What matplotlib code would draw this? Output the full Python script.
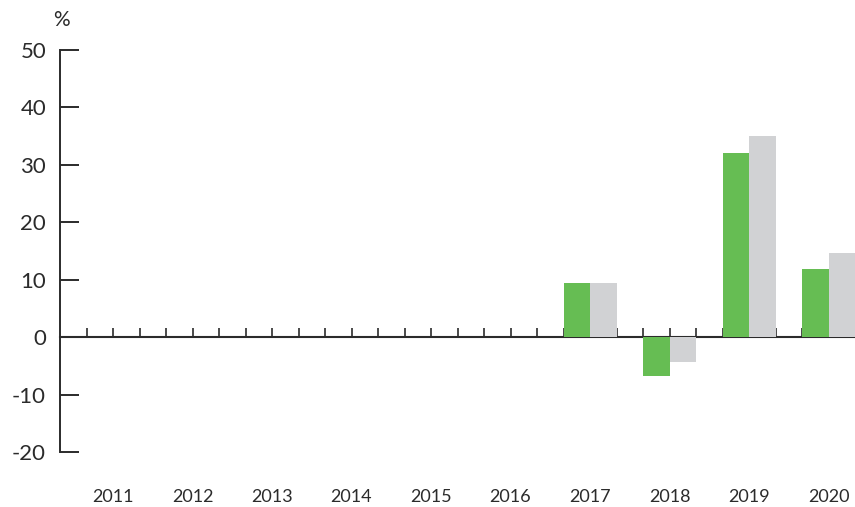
import numpy as np
import matplotlib
matplotlib.use('Agg')
from matplotlib import pyplot as plt

plt.rcParams['font.family'] = ['Lato', 'DejaVu Sans']

# data
years = ['2011', '2012', '2013', '2014', '2015', '2016', '2017', '2018', '2019', '2020']
green_vals = [np.nan, np.nan, np.nan, np.nan, np.nan, np.nan, 9.5, -6.8, 32.0, 11.9]
grey_vals = [np.nan, np.nan, np.nan, np.nan, np.nan, np.nan, 9.5, -4.4, 35.0, 14.7]
yticks = [-20, -10, 0, 10, 20, 30, 40, 50]

green = '#66bd53'
grey = '#d1d2d4'
dark = '#2b2b2b'

fig = plt.figure(figsize=(8.55, 5.07), dpi=100)
ax = fig.add_axes([60/855, 1-452/507, 1-60/855, (452-50)/507])

# each year takes 3 slots: green, grey, gap
centers = np.arange(len(years))*3 + 2
g = np.array(green_vals)
r = np.array(grey_vals)
ok = ~np.isnan(g)
ax.bar(centers[ok]-0.5, g[ok], width=1.0, color=green, zorder=3)
ax.bar(centers[ok]+0.5, r[ok], width=1.0, color=grey, zorder=3)

ax.set_xlim(0, 30)
ax.set_ylim(-20, 50)

for s in ['top', 'right']:
    ax.spines[s].set_visible(False)
ax.spines['left'].set_color(dark)
ax.spines['left'].set_linewidth(1.4)
ax.spines['bottom'].set_position(('data', 0))
ax.spines['bottom'].set_color(dark)
ax.spines['bottom'].set_linewidth(1.5)
ax.spines['bottom'].set_zorder(2)

ax.set_yticks(yticks)
ax.set_yticklabels([str(v) for v in yticks])
ax.tick_params(axis='y', direction='in', length=13.7, width=1.4, color=dark,
               labelsize=16, pad=10, labelcolor=dark)

ax.set_xticks(np.arange(1, 30))
ax.set_xticklabels([])
ax.tick_params(axis='x', direction='in', length=6.5, width=1.2, color=dark)

# year labels under the plot
sec = ax.secondary_xaxis(location=0)
sec.set_xticks(centers)
sec.set_xticklabels(years)
sec.tick_params(length=0, pad=27, labelsize=13, labelcolor=dark)
sec.spines['bottom'].set_visible(False)

fig.text(61/855, 1-20/507, '%', fontsize=15, color=dark, ha='center', va='center')

fig.savefig('out.png', dpi=100)
